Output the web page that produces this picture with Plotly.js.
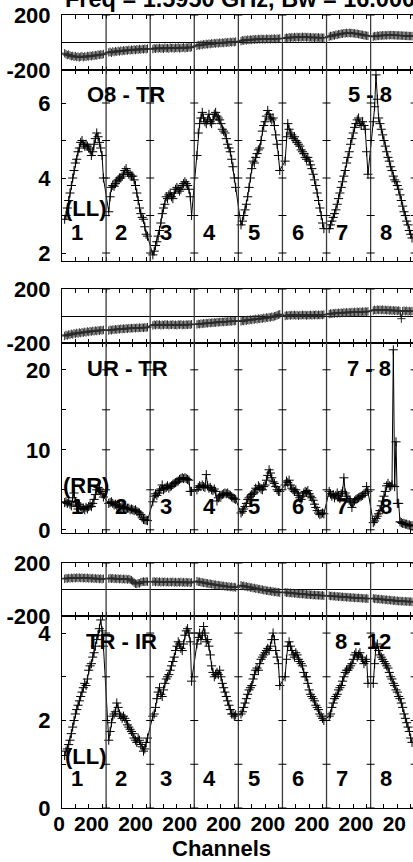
<!DOCTYPE html>
<html>
<head>
<meta charset="utf-8">
<script src="https://cdn.plot.ly/plotly-3.0.1.min.js"></script>
<style>html,body{margin:0;padding:0;background:#fff;}#chart{width:413px;height:862px;}</style>
</head>
<body>
<div id="chart"></div>
<script>
// ---------------- DATA ----------------
const TITLE = 'Freq = 1.5950 GHz, Bw = 16.000 MHz';
const X_TITLE = 'Channels';
const IF_LABELS = ['1','2','3','4','5','6','7','8'];
const CHANNELS = [2,3,4,5,6,7,8,9,10,11,12,13,14,15,16,17,18,19,20,21,22,23,24,25,26,27,28,29,30,31];
const CHANNEL_TICKS = [0,10,20,30];
const CHANNEL_TICK_LABELS = ['0','','20',''];
const CHANNELS_PER_IF = 33;

const BASELINE_LABELS = ['O8 - TR','UR - TR','TR - IR'];
const IF_RANGE_LABELS = ['5 - 8','7 - 8','8 - 12'];
const POL_LABELS = ['(LL)','(RR)','(LL)'];

const PHASE_TICKS = [-200,0,200];
const PHASE_TICK_LABELS = ['-200','','200'];
const AMP1_TICKS = [2,3,4,5,6];
const AMP1_TICK_LABELS = ['2','','4','','6'];
const AMP2_TICKS = [0,5,10,15,20];
const AMP2_TICK_LABELS = ['0','','10','','20'];
const AMP3_TICKS = [0,1,2,3,4];
const AMP3_TICK_LABELS = ['0','','2','','4'];

// O8 - TR phase (deg), per IF
const o8trPhase = [
 [-78,-85,-92,-88,-95,-100,-97,-104,-99,-106,-102,-108,-103,-100,-107,-101,-105,-98,-102,-96,-100,-94,-97,-92,-95,-88,-91,-86,-89,-84],
 [-72,-68,-75,-65,-70,-63,-68,-60,-66,-58,-63,-57,-61,-55,-59,-53,-58,-52,-56,-50,-55,-49,-53,-47,-52,-46,-50,-45,-49,-44],
 [-48,-42,-46,-40,-45,-39,-44,-41,-46,-38,-43,-40,-45,-37,-42,-39,-44,-38,-41,-36,-43,-39,-40,-35,-42,-37,-39,-34,-38,-33],
 [-24,-18,-22,-15,-19,-12,-16,-10,-14,-8,-12,-6,-10,-4,-8,-3,-7,-1,-5,0,-4,2,-2,3,-1,5,1,6,2,7],
 [10,16,13,19,15,21,17,22,18,24,20,25,21,26,22,27,23,26,22,28,24,27,23,28,25,29,24,28,26,30],
 [30,36,32,38,34,39,35,40,36,41,37,40,36,42,38,41,37,40,36,39,35,38,34,38,35,37,33,36,34,35],
 [42,48,46,53,50,57,55,61,60,65,63,68,66,70,67,71,68,69,66,67,63,64,60,60,56,56,52,52,49,48],
 [42,47,45,50,47,52,49,53,50,54,51,55,52,55,53,54,52,53,51,52,50,51,49,50,48,49,47,48,46,47]
];
// O8 - TR amplitude, per IF
const o8trAmp = [
 [2.9,3.0,3.2,3.4,3.6,3.8,4.0,4.2,4.4,4.5,4.7,4.8,4.95,5.0,4.9,4.85,4.9,4.85,4.8,4.75,4.6,4.7,4.9,5.05,5.2,5.1,4.95,4.8,4.6,4.0],
 [3.1,3.5,3.75,3.8,3.78,3.85,3.92,3.95,4.0,4.0,4.05,4.1,4.2,4.25,4.15,4.1,4.1,4.05,4.05,3.95,3.8,3.6,3.4,3.2,3.05,2.95,2.9,2.7,2.5,2.45],
 [1.95,2.05,2.2,2.3,2.45,2.6,2.8,3.05,3.2,3.3,3.5,3.45,3.55,3.6,3.5,3.45,3.6,3.7,3.75,3.7,3.65,3.7,3.8,3.85,3.9,3.85,3.8,3.7,3.5,3.0],
 [4.6,5.2,5.45,5.6,5.75,5.6,5.5,5.45,5.55,5.7,5.5,5.45,5.55,5.7,5.75,5.65,5.6,5.55,5.45,5.3,5.25,5.2,5.05,4.9,4.8,4.7,4.5,4.3,4.0,3.75],
 [2.75,2.85,3.0,3.15,3.3,3.5,3.75,4.0,4.25,4.45,4.4,4.55,4.65,4.75,4.8,5.0,5.25,5.4,5.5,5.65,5.8,5.7,5.6,5.55,5.6,5.4,5.15,4.9,4.6,4.2],
 [4.45,5.1,5.45,5.3,5.2,5.15,5.05,5.1,5.0,4.95,4.9,4.85,4.75,4.7,4.65,4.55,4.5,4.55,4.45,4.35,4.25,4.1,3.95,3.8,3.6,3.4,3.2,3.0,2.8,2.65],
 [2.65,2.75,2.85,2.95,3.05,3.15,3.3,3.45,3.6,3.75,3.9,4.05,4.2,4.4,4.55,4.7,4.9,5.05,5.2,5.35,5.45,5.55,5.6,5.45,5.4,5.5,5.4,5.3,4.7,4.1],
 [5.5,5.9,6.75,6.1,5.6,5.45,5.3,5.15,5.0,4.85,4.7,4.55,4.45,4.3,4.2,4.05,3.95,3.9,3.8,3.7,3.55,3.4,3.25,3.1,3.0,2.85,2.75,2.6,2.5,2.4]
];
// UR - TR phase (deg), per IF
const urtrPhase = [
 [-148,-140,-145,-136,-140,-132,-137,-128,-133,-125,-130,-122,-127,-120,-124,-117,-122,-114,-119,-112,-116,-110,-114,-108,-112,-106,-109,-104,-107,-103],
 [-108,-102,-106,-100,-103,-98,-101,-96,-99,-94,-97,-93,-96,-91,-95,-90,-93,-89,-92,-88,-91,-87,-90,-86,-89,-85,-88,-84,-87,-83],
 [-70,-64,-68,-62,-67,-63,-69,-64,-68,-62,-66,-63,-69,-64,-67,-62,-68,-65,-69,-63,-66,-62,-68,-64,-67,-63,-66,-62,-65,-61],
 [-63,-58,-61,-56,-59,-54,-57,-52,-55,-50,-53,-49,-51,-47,-50,-45,-48,-44,-46,-42,-45,-41,-43,-40,-42,-38,-41,-37,-39,-36],
 [-40,-35,-38,-32,-35,-29,-32,-26,-30,-24,-27,-21,-25,-19,-22,-17,-20,-14,-17,-11,-14,-8,-11,-5,-8,-2,0,5,9,13],
 [0,5,2,7,3,8,4,9,3,8,2,7,4,9,5,8,3,7,5,9,4,8,6,10,5,9,6,10,7,11],
 [14,19,16,21,18,23,19,24,21,25,22,27,23,28,24,29,25,30,26,31,27,32,28,32,29,33,30,34,31,35],
 [40,46,42,48,44,47,43,48,42,46,41,45,40,44,39,43,38,42,37,41,36,-20,36,40,35,39,34,38,33,37]
];
// UR - TR amplitude, per IF
const urtrAmp = [
 [3.4,3.5,3.3,3.6,3.2,3.0,4.0,4.6,3.5,2.9,2.6,3.2,2.9,2.6,2.7,2.5,2.8,2.6,2.9,3.1,2.9,3.3,3.8,4.4,5.0,5.3,5.1,4.8,4.5,4.1],
 [3.3,3.4,3.5,3.3,3.1,3.2,3.0,3.1,2.9,2.8,2.9,2.7,2.8,2.6,2.7,2.7,2.5,2.6,2.5,2.4,2.5,2.3,2.2,2.1,1.9,1.5,1.3,1.25,1.2,1.15],
 [3.5,4.2,4.5,4.3,4.6,4.9,5.1,5.6,5.0,5.2,5.3,5.5,5.2,5.4,5.5,5.7,5.8,5.9,6.0,6.1,6.3,6.4,6.5,6.4,6.5,6.4,6.3,6.2,4.8,4.8],
 [5.0,5.3,5.5,5.4,5.6,5.4,5.3,6.9,5.5,5.2,5.3,5.0,4.9,5.1,4.8,3.6,4.0,4.2,4.3,4.4,4.5,4.6,4.5,4.6,4.4,4.3,4.1,4.0,3.9,3.8],
 [2.1,2.3,2.6,2.9,3.3,3.8,4.0,4.2,4.4,4.5,4.7,5.2,5.0,5.5,5.3,5.1,5.0,5.4,5.6,6.2,6.8,7.5,7.1,6.5,6.0,5.8,5.4,5.0,4.8,4.8],
 [5.6,6.1,5.9,6.2,5.6,5.2,5.0,4.8,5.0,4.6,4.3,4.0,3.8,4.2,4.6,4.8,4.7,4.9,4.5,4.2,4.0,3.7,3.2,2.8,2.4,2.1,1.9,2.0,2.1,2.0],
 [4.8,4.5,4.2,4.4,4.0,4.3,4.6,4.2,3.9,4.5,4.8,6.5,4.6,4.2,3.9,3.7,3.5,2.8,3.4,3.6,3.8,3.9,4.0,4.1,4.2,4.3,4.5,4.6,5.4,4.8],
 [0.9,1.1,1.4,1.7,2.0,2.4,3.0,3.6,4.2,4.8,5.5,5.8,5.5,5.4,5.6,22.5,5.4,11.0,3.3,3.3,1.0,0.9,0.8,0.8,0.7,0.7,0.6,0.6,0.5,0.5]
];
// TR - IR phase (deg), per IF
const trirPhase = [
 [80,85,82,87,83,88,84,89,85,90,86,90,86,89,85,88,84,88,83,87,82,86,81,85,80,84,79,83,78,82],
 [82,86,81,85,80,84,79,83,78,82,77,81,76,80,75,79,74,70,62,52,44,42,48,46,55,58,60,57,61,59],
 [58,62,56,61,55,60,54,59,55,60,54,58,53,58,54,59,53,57,52,57,53,58,52,56,51,56,52,55,50,54],
 [63,58,59,54,55,50,51,46,47,42,44,39,40,35,37,32,34,29,31,26,28,23,25,20,23,18,21,16,19,15],
 [32,26,28,22,24,18,20,14,16,10,12,6,8,2,4,-2,0,-6,-4,-10,-8,-13,-11,-16,-14,-19,-17,-22,-20,-24],
 [-20,-25,-22,-27,-24,-29,-26,-31,-28,-33,-30,-35,-32,-36,-34,-38,-36,-40,-37,-41,-39,-43,-40,-44,-42,-45,-43,-47,-44,-48],
 [-46,-50,-48,-52,-49,-54,-51,-55,-52,-57,-54,-58,-56,-60,-57,-61,-59,-63,-60,-64,-62,-65,-63,-66,-64,-68,-66,-69,-67,-70],
 [-66,-71,-68,-73,-70,-75,-72,-77,-74,-79,-76,-81,-78,-83,-80,-85,-82,-87,-84,-89,-86,-90,-87,-91,-88,-92,-89,-93,-90,-94]
];
// TR - IR amplitude, per IF
const trirAmp = [
 [1.2,1.3,1.35,1.45,1.55,1.7,1.85,2.0,2.15,2.25,2.35,2.45,2.55,2.65,2.75,2.85,2.8,2.95,3.15,3.25,3.3,3.45,3.55,3.7,3.85,3.95,4.1,4.3,4.05,3.7],
 [1.55,1.75,1.95,2.1,2.15,2.2,2.4,2.3,2.15,2.1,2.05,2.1,2.05,2.0,1.9,1.85,1.8,1.75,1.7,1.6,1.55,1.5,1.6,1.55,1.45,1.4,1.3,1.35,1.5,1.6],
 [2.1,2.15,2.3,2.5,2.65,2.75,2.6,2.55,2.7,2.85,2.95,3.0,3.05,3.15,3.25,3.35,3.45,3.6,3.7,3.8,3.75,3.65,3.6,3.75,3.95,4.05,4.1,4.0,3.8,2.9],
 [3.75,3.9,4.0,3.85,3.95,4.15,4.0,3.8,3.85,3.7,3.5,3.25,3.1,3.0,3.05,3.1,3.05,3.15,3.0,2.85,2.75,2.65,2.55,2.45,2.35,2.25,2.15,2.15,2.1,2.13],
 [2.15,2.2,2.3,2.4,2.5,2.6,2.7,2.75,2.8,2.95,3.05,3.15,3.2,3.15,3.3,3.4,3.45,3.5,3.55,3.6,3.65,3.6,3.7,3.85,4.0,3.85,3.6,3.45,3.3,2.8],
 [3.0,3.4,3.7,3.8,3.7,3.6,3.5,3.45,3.55,3.5,3.4,3.35,3.3,3.25,3.1,3.0,3.0,2.85,2.7,2.6,2.55,2.5,2.45,2.35,2.3,2.25,2.15,2.1,2.05,2.0],
 [2.1,2.15,2.3,2.4,2.5,2.55,2.6,2.7,2.75,2.8,2.9,3.0,3.1,3.15,3.15,3.2,3.25,3.3,3.4,3.5,3.55,3.45,3.5,3.55,3.45,3.4,3.3,3.35,3.4,2.85],
 [2.85,3.3,3.7,3.75,3.6,3.5,3.45,3.4,3.35,3.3,3.25,3.2,3.1,3.0,2.95,2.85,2.8,2.7,2.65,2.55,2.5,2.4,2.3,2.15,2.05,1.95,1.85,1.75,1.6,1.5]
];

// ---------------- LAYOUT HELPERS ----------------
const W = 413, H = 862, PLOT_LEFT = 62, PX_PER_CHAN = 1.336;
const FONT = {family: 'Liberation Sans, Arial, Helvetica, sans-serif', size: 22, color: '#000', weight: 'bold'};
const TITLE_FONT = Object.assign({}, FONT, {size: 23.5});
const XTICK_FONT = Object.assign({}, FONT, {size: 21});
const px = x => x / W;
const py = y => 1 - y / H;
const xMax = (W - PLOT_LEFT) / PX_PER_CHAN;
const nIF = IF_LABELS.length;

function flatX() {
  const xs = [];
  for (let k = 0; k < nIF; k++) CHANNELS.forEach(c => xs.push(k * CHANNELS_PER_IF + c));
  return xs;
}
const flat = arr => arr.reduce((a, b) => a.concat(b), []);

const xTickVals = [], xTickText = [];
for (let k = 0; k < nIF; k++) CHANNEL_TICKS.forEach((t, i) => { xTickVals.push(k * CHANNELS_PER_IF + t); xTickText.push(CHANNEL_TICK_LABELS[i]); });

// panel geometry (pixel top/bottom) and axis config
const panels = [
  {top: 15,  bottom: 70,  range: [-200, 200],     tv: PHASE_TICKS, tt: PHASE_TICK_LABELS, data: o8trPhase, phase: true},
  {top: 70,  bottom: 261, range: [1.787, 6.88],   tv: AMP1_TICKS,  tt: AMP1_TICK_LABELS,  data: o8trAmp,   phase: false},
  {top: 289, bottom: 343, range: [-200, 200],     tv: PHASE_TICKS, tt: PHASE_TICK_LABELS, data: urtrPhase, phase: true},
  {top: 343, bottom: 533, range: [-0.4, 23.35],   tv: AMP2_TICKS,  tt: AMP2_TICK_LABELS,  data: urtrAmp,   phase: false},
  {top: 563, bottom: 616, range: [-200, 200],     tv: PHASE_TICKS, tt: PHASE_TICK_LABELS, data: trirPhase, phase: true},
  {top: 616, bottom: 808, range: [0, 4.39],       tv: AMP3_TICKS,  tt: AMP3_TICK_LABELS,  data: trirAmp,   phase: false}
];

const layout = {
  width: W, height: H,
  margin: {l: 0, r: 0, t: 0, b: 0},
  paper_bgcolor: '#fff', plot_bgcolor: '#fff',
  showlegend: false,
  font: FONT,
  shapes: [], annotations: []
};
const traces = [];
const X = flatX();

panels.forEach((p, i) => {
  const n = i + 1;
  const xa = n === 1 ? 'xaxis' : 'xaxis' + n;
  const ya = n === 1 ? 'yaxis' : 'yaxis' + n;
  const xr = n === 1 ? 'x' : 'x' + n;
  const yr = n === 1 ? 'y' : 'y' + n;
  const last = n === panels.length;
  layout[xa] = {
    domain: [px(PLOT_LEFT), 1], anchor: yr, range: [0, xMax],
    tickmode: 'array', tickvals: xTickVals, ticktext: xTickText,
    ticks: 'inside', ticklen: 4, tickwidth: 1, tickcolor: '#000',
    showline: true, linecolor: '#000', linewidth: 1, mirror: 'ticks',
    showgrid: false, zeroline: false, showticklabels: last,
    tickfont: XTICK_FONT, ticklabelstandoff: -3, ticklabelshift: -3, tickangle: 0
  };
  layout[ya] = {
    domain: [py(p.bottom), py(p.top)], anchor: xr, range: p.range,
    tickmode: 'array', tickvals: p.tv, ticktext: p.tt,
    ticks: 'inside', ticklen: 4, tickwidth: 1, tickcolor: '#000',
    showline: true, linecolor: '#000', linewidth: 1, mirror: false,
    showgrid: false, zeroline: p.phase, zerolinecolor: '#000', zerolinewidth: 1,
    tickfont: FONT, ticklabelstandoff: 6
  };
  // IF separators
  for (let k = 1; k <= nIF; k++) {
    const xb = k * CHANNELS_PER_IF;
    layout.shapes.push({type: 'line', xref: xr, yref: yr + ' domain', x0: xb, x1: xb, y0: 0, y1: 1,
      line: {color: '#3a3a3a', width: 1.3}});
    p.tv.forEach(v => {
      if (v === 0 && p.phase) return;
      layout.shapes.push({type: 'line', xref: xr, yref: yr, x0: xb - 3, x1: xb + 3, y0: v, y1: v,
        line: {color: '#000', width: 1}});
    });
  }
  traces.push({
    type: 'scatter', mode: 'lines+markers', xaxis: xr, yaxis: yr,
    x: X, y: flat(p.data),
    line: {color: '#000', width: 1},
    marker: p.phase
      ? {symbol: 'cross-thin', size: 6, line: {color: '#2a2a2a', width: 1}}
      : {symbol: 'cross-thin', size: 6.5, line: {color: '#000', width: 1}},
    hoverinfo: 'skip'
  });
});

// text labels (pixel positions)
const ann = (text, x, y, xanchor, font) => layout.annotations.push({
  text, xref: 'paper', yref: 'paper', x: px(x), y: py(y), xanchor: xanchor || 'center', yanchor: 'middle',
  showarrow: false, font: font || FONT
});
const labelRows = [
  {base: 94,  pol: 209, num: 232},
  {base: 368, pol: 485, num: 506},
  {base: 641, pol: 756, num: 778}
];
const baseX = [126, 127, 121];
const rangeX = [370, 369, 363];
labelRows.forEach((r, i) => {
  ann(BASELINE_LABELS[i], baseX[i], r.base);
  ann(IF_RANGE_LABELS[i], rangeX[i], r.base);
  ann(POL_LABELS[i], 86, r.pol);
  IF_LABELS.forEach((lab, k) => ann(lab, PLOT_LEFT + (k * CHANNELS_PER_IF + 11.5) * PX_PER_CHAN, r.num));
});
ann(X_TITLE, 222, 848);
ann(TITLE, 63, -1, 'left', TITLE_FONT);

Plotly.newPlot('chart', traces, layout, {staticPlot: true, displayModeBar: false});
</script>
</body>
</html>
